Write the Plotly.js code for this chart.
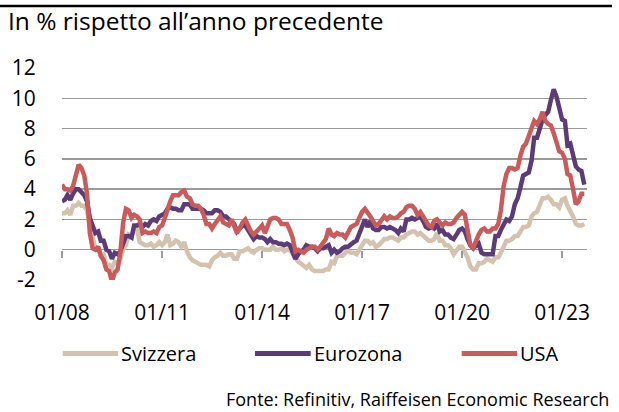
<!DOCTYPE html>
<html>
<head>
<meta charset="utf-8">
<script src="https://cdn.plot.ly/plotly-3.0.1.min.js"></script>
<style>html,body{margin:0;padding:0;background:#fff;}#chart{width:619px;height:412px;}</style>
</head>
<body>
<div id="chart"></div>
<script>
// Monthly, Jan 2008 – Sep 2023, y/y change in %
const startYear = 2008;
const svizzera = [
 2.4,2.4,2.6,2.3,2.9,2.9,3.1,2.9,2.9,2.6,1.5,0.7,
 0.1,0.0,-0.4,-0.3,-1.0,-1.0,-1.2,-0.8,-0.9,-0.6,0.0,0.3,
 1.0,0.9,1.4,1.4,0.5,0.4,0.3,0.3,0.4,0.2,0.3,0.5,
 0.3,0.5,1.0,0.3,0.4,0.6,0.5,0.2,0.5,-0.1,-0.5,-0.7,
 -0.8,-0.9,-1.0,-1.0,-1.0,-1.1,-0.7,-0.5,-0.4,-0.2,-0.4,-0.4,
 -0.3,-0.3,-0.6,-0.6,-0.1,-0.1,0.0,0.1,-0.1,-0.2,0.0,0.1,
 0.1,0.0,0.0,0.0,0.2,0.0,0.0,0.1,-0.1,0.0,0.0,-0.3,
 -0.5,-0.8,-0.9,-1.1,-1.2,-1.0,-1.3,-1.4,-1.4,-1.4,-1.4,-1.3,
 -1.3,-0.8,-0.9,-0.4,-0.4,-0.4,-0.2,-0.1,-0.2,-0.2,-0.3,0.0,
 0.3,0.6,0.6,0.4,0.5,0.2,0.3,0.5,0.7,0.7,0.8,0.8,
 0.7,0.6,0.8,0.8,1.0,1.1,1.2,1.2,1.0,1.1,0.9,0.7,
 0.6,0.6,0.7,1.1,0.6,0.6,0.3,0.3,0.1,-0.3,-0.1,0.2,
 0.2,-0.1,-0.5,-1.1,-1.3,-1.3,-0.9,-0.9,-0.8,-0.6,-0.7,-0.8,
 -0.5,-0.5,-0.2,0.3,0.6,0.6,0.7,0.9,0.9,1.2,1.5,1.5,
 1.6,2.2,2.4,2.5,2.9,3.4,3.4,3.5,3.3,3.0,3.0,2.8,
 3.3,3.4,2.9,2.6,2.2,1.7,1.6,1.6,1.7
];
const eurozona = [
 3.2,3.3,3.6,3.3,3.7,4.0,4.0,3.8,3.6,3.2,2.1,1.6,
 1.1,1.2,0.6,0.6,0.0,-0.1,-0.6,-0.2,-0.3,-0.1,0.5,0.9,
 0.9,0.8,1.6,1.6,1.7,1.5,1.7,1.6,1.9,2.0,1.9,2.2,
 2.3,2.4,2.7,2.8,2.7,2.7,2.6,2.6,3.0,3.0,3.0,2.7,
 2.7,2.7,2.7,2.6,2.4,2.4,2.4,2.6,2.6,2.5,2.2,2.2,
 2.0,1.8,1.7,1.2,1.4,1.6,1.6,1.3,1.1,0.7,0.9,0.8,
 0.8,0.7,0.5,0.7,0.5,0.5,0.4,0.4,0.3,0.4,0.3,-0.2,
 -0.6,-0.3,-0.1,0.0,0.3,0.2,0.2,0.1,-0.1,0.1,0.1,0.2,
 0.3,-0.2,0.0,-0.2,-0.1,0.1,0.2,0.2,0.4,0.5,0.6,1.1,
 1.7,2.0,1.5,1.9,1.4,1.3,1.3,1.5,1.5,1.4,1.5,1.4,
 1.3,1.1,1.4,1.2,2.0,2.0,2.1,2.0,2.1,2.2,1.9,1.5,
 1.4,1.5,1.4,1.7,1.2,1.3,1.0,1.0,0.8,0.7,1.0,1.3,
 1.4,1.2,0.7,0.3,0.1,0.3,0.4,-0.2,-0.3,-0.3,-0.3,-0.3,
 0.9,0.9,1.3,1.6,2.0,1.9,2.2,3.0,3.4,4.1,4.9,5.0,
 5.1,5.9,7.4,7.4,8.1,8.6,8.9,9.1,9.9,10.6,10.1,9.2,
 8.6,8.5,6.9,7.0,6.1,5.5,5.3,5.2,4.3
];
const usa = [
 4.3,4.0,4.0,3.9,4.2,5.0,5.6,5.4,4.9,3.7,1.1,0.1,
 0.0,0.2,-0.4,-0.7,-1.3,-1.4,-2.1,-1.5,-1.3,-0.2,1.8,2.7,
 2.6,2.1,2.3,2.2,2.0,1.1,1.2,1.1,1.1,1.2,1.1,1.5,
 1.6,2.1,2.7,3.2,3.6,3.6,3.6,3.8,3.9,3.5,3.4,3.0,
 2.9,2.9,2.7,2.3,1.7,1.7,1.4,1.7,2.0,2.2,1.8,1.7,
 1.6,2.0,1.5,1.1,1.4,1.8,2.0,1.5,1.2,1.0,1.2,1.5,
 1.6,1.1,1.5,2.0,2.1,2.1,2.0,1.7,1.7,1.7,1.3,0.8,
 -0.1,0.0,-0.1,-0.2,0.0,0.1,0.2,0.2,0.0,0.2,0.5,0.7,
 1.4,1.0,0.9,1.1,1.0,1.0,0.8,1.1,1.5,1.6,1.7,2.1,
 2.5,2.7,2.4,2.2,1.9,1.6,1.7,1.9,2.2,2.0,2.2,2.1,
 2.1,2.2,2.4,2.5,2.8,2.9,2.9,2.7,2.3,2.5,2.2,1.9,
 1.6,1.5,1.9,2.0,1.8,1.6,1.8,1.7,1.7,1.8,2.1,2.3,
 2.5,2.3,1.5,0.3,0.1,0.6,1.0,1.3,1.4,1.2,1.2,1.4,
 1.4,1.7,2.6,4.2,5.0,5.4,5.4,5.3,5.4,6.2,6.8,7.0,
 7.5,7.9,8.5,8.3,8.6,9.1,8.5,8.3,8.2,7.7,7.1,6.5,
 6.4,6.0,5.0,4.9,4.0,3.0,3.2,3.7,3.7
];
const seriesNames = ["Svizzera", "Eurozona", "USA"];
const xTickVals = ["2008-01-01","2011-01-01","2014-01-01","2017-01-01","2020-01-01","2023-01-01"];
const xTickText = ["01/08","01/11","01/14","01/17","01/20","01/23"];
const yTickVals = [-2,0,2,4,6,8,10,12];
const yTickText = ["-2","0","2","4","6","8","10","12"];

function months(n) {
  const out = [];
  for (let i = 0; i < n; i++) {
    const y = startYear + Math.floor(i / 12);
    const m = (i % 12) + 1;
    out.push(y + "-" + (m < 10 ? "0" + m : m) + "-01");
  }
  return out;
}
const dates = months(usa.length);

const FONT = "Open Sans, Noto Sans, sans-serif";
const colors = ["#D3C2AE", "#5C3C78", "#C95B5A"];

const traces = [
  {x: dates, y: svizzera, name: seriesNames[0], type: "scatter", mode: "lines",
   line: {color: colors[0], width: 4.5}, xaxis: "x", yaxis: "y"},
  {x: dates, y: eurozona, name: seriesNames[1], type: "scatter", mode: "lines",
   line: {color: colors[1], width: 4.5}, xaxis: "x", yaxis: "y"},
  {x: dates, y: usa, name: seriesNames[2], type: "scatter", mode: "lines",
   line: {color: colors[2], width: 4.5}, xaxis: "x2", yaxis: "y"}
];

// plot area geometry (px) used to place legend/decoration in paper units
const L = 62, T = 68, W = 525, H = 212.4;
const px = v => (v - L) / W;
const py = v => (T + H - v) / H;

const legendX = [[62.7, 118], [255, 310.7], [461.7, 517]];
const legendY = 354;
const shapes = [
  {type: "line", xref: "paper", yref: "paper", x0: px(0), x1: px(612), y0: py(6), y1: py(6),
   line: {color: "#000", width: 2.5}}
];
const annotations = [
  {text: "Fonte: Refinitiv, Raiffeisen Economic Research", xref: "paper", yref: "paper",
   x: px(611), y: py(400), xanchor: "right", yanchor: "middle", showarrow: false,
   font: {family: FONT, size: 18, color: "#000"}}
];
seriesNames.forEach((nm, i) => {
  shapes.push({type: "line", xref: "paper", yref: "paper",
    x0: px(legendX[i][0]), x1: px(legendX[i][1]), y0: py(legendY), y1: py(legendY),
    line: {color: colors[i], width: 5}});
  annotations.push({text: nm, xref: "paper", yref: "paper", x: px(legendX[i][1] + 2), y: py(legendY),
    xanchor: "left", yanchor: "middle", showarrow: false, borderpad: 0,
    font: {family: FONT, size: 20, color: "#000"}});
});

const layout = {
  width: 619, height: 412,
  margin: {l: L, r: 619 - L - W, t: T, b: 412 - T - H, autoexpand: false},
  paper_bgcolor: "#ffffff", plot_bgcolor: "#ffffff",
  font: {family: FONT, size: 20, color: "#000000"},
  title: {text: "In % rispetto all\u2019anno precedente", x: 8/619, xref: "container", xanchor: "left",
          y: 1 - 21/412, yref: "container", yanchor: "middle",
          font: {family: FONT, size: 24.5, color: "#000"}, pad: {l: 0, t: 0, b: 0, r: 0}},
  xaxis: {type: "date", range: ["2008-01-01", "2023-10-01"], tickvals: xTickVals, ticktext: xTickText,
          showgrid: false, zeroline: false, showline: false, ticks: "outside", ticklen: 14,
          tickcolor: "rgba(0,0,0,0)", tickfont: {family: FONT, size: 21, color: "#000"}, fixedrange: true},
  xaxis2: {type: "date", matches: "x", overlaying: "x", anchor: "free", position: 2/14,
           tickvals: xTickVals, showticklabels: false, ticks: "outside", ticklen: 7, tickwidth: 1.5,
           tickcolor: "#9a9a9a", showgrid: false, zeroline: false, showline: false},
  yaxis: {range: [-2, 12], tickvals: yTickVals, ticktext: yTickText, showgrid: true,
          gridcolor: "#9a9a9a", gridwidth: 1.5, zeroline: false, showline: false,
          ticks: "outside", ticklen: 21, tickcolor: "rgba(0,0,0,0)",
          tickfont: {family: FONT, size: 21, color: "#000"}, fixedrange: true},
  showlegend: false,
  shapes: shapes,
  annotations: annotations
};

Plotly.newPlot("chart", traces, layout, {displayModeBar: false, staticPlot: true});
</script>
</body>
</html>
